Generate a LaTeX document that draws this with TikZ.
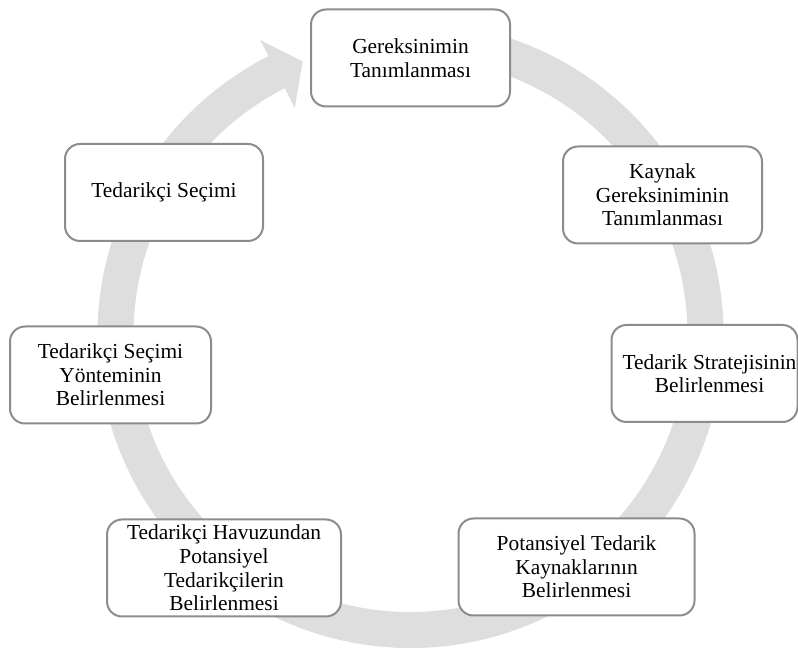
\documentclass[tikz,border=0pt]{standalone}
\usepackage{fontspec}
\setmainfont{Liberation Serif}
\definecolor{ringgray}{HTML}{DEDEDE}
\definecolor{boxgray}{HTML}{8C8C8C}
\begin{document}
\begin{tikzpicture}[x=1pt,y=1pt,
  stage/.style={draw=boxgray, line width=2pt, rounded corners=15pt, fill=white,
    align=center, inner sep=0pt, minimum height=97pt,
    font=\fontsize{21.4pt}{23.6pt}\selectfont}]
\useasboundingbox (0,0) rectangle (798,648);
\clip (0,0) rectangle (798,648);

% circular band with arrow head, running clockwise
\begin{scope}[shift={(410.5,313)}]
  \fill[ringgray] (117:313) arc[start angle=117, end angle=455, radius=313]
    -- (455:277) arc[start angle=455, end angle=117, radius=277]
    -- (117:255) -- (111.5:294) -- (117:331) -- cycle;
\end{scope}

% process stages
\node[stage, minimum width=199pt] (n1) at (410.5,590) {Gereksinimin\\Tanımlanması};
\node[stage, minimum width=199pt] (n2) at (662.5,453) {Kaynak\\Gereksiniminin\\Tanımlanması};
\node[stage, minimum width=186pt] (n3) at (704.5,274.5)
  {\hspace*{10pt}Tedarik Stratejisinin\\\hspace*{10pt}Belirlenmesi};
\node[stage, minimum width=236pt] (n4) at (576.5,81) {Potansiyel Tedarik\\Kaynaklarının\\Belirlenmesi};
\node[stage, minimum width=234pt] (n5) at (224,80) {Tedarikçi Havuzundan\\Potansiyel\\Tedarikçilerin\\Belirlenmesi};
\node[stage, minimum width=201pt] (n6) at (110.5,273) {Tedarikçi Seçimi\\Yönteminin\\Belirlenmesi};
\node[stage, minimum width=198pt] (n7) at (164,455.5) {Tedarikçi Seçimi};
\end{tikzpicture}
\end{document}
